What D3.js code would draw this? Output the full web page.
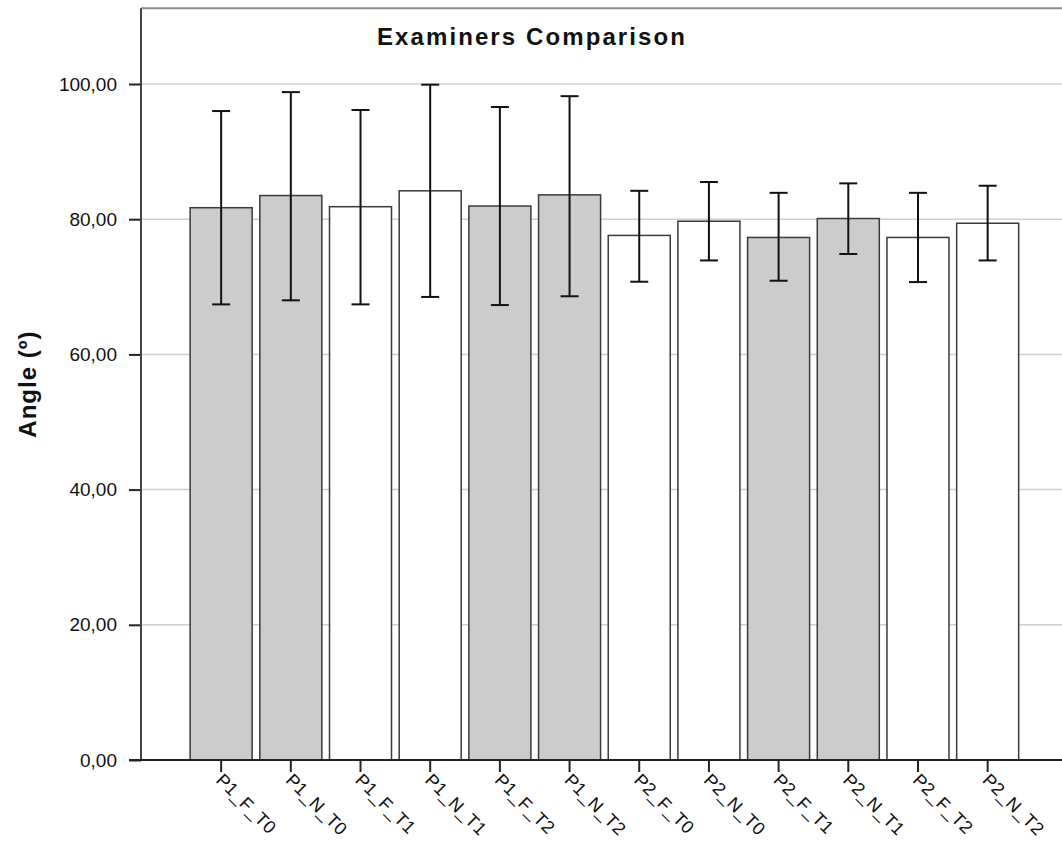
<!DOCTYPE html>
<html>
<head>
<meta charset="utf-8">
<script src="https://cdn.jsdelivr.net/npm/d3@7"></script>
<style>
  body { margin: 0; background: #fff; }
  #graf { width: 1062px; height: 841px; }
  text { font-family: Arial, 'Liberation Sans', sans-serif; fill: #111; }
  .titulo { font-size: 24px; font-weight: bold; letter-spacing: 2.1px; }
  .etiqueta-y { font-size: 24px; font-weight: bold; letter-spacing: 1px; }
  .eje text { font-size: 19px; }
  .eje-x text { font-size: 18px; letter-spacing: 0.3px; }
</style>
</head>
<body>
<div id="graf"></div>
<script>
// I. Datos
categorias = ['P1_F_T0', 'P1_N_T0', 'P1_F_T1', 'P1_N_T1', 'P1_F_T2', 'P1_N_T2',
              'P2_F_T0', 'P2_N_T0', 'P2_F_T1', 'P2_N_T1', 'P2_F_T2', 'P2_N_T2']
medias   = [81.7, 83.5, 81.85, 84.2, 81.95, 83.6, 77.6, 79.7, 77.3, 80.1, 77.3, 79.4]
err_sup  = [96.0, 98.8, 96.15, 99.9, 96.6, 98.2, 84.2, 85.5, 83.9, 85.3, 83.9, 84.95]
err_inf  = [67.4, 68.0, 67.4, 68.5, 67.3, 68.6, 70.75, 73.9, 70.9, 74.85, 70.7, 73.9]
grupo    = ['g', 'g', 'b', 'b', 'g', 'g', 'b', 'b', 'g', 'g', 'b', 'b']
ticks_y  = [0, 20, 40, 60, 80, 100]

data = categorias.map((c, i) => ({
  cat: c, media: medias[i], sup: err_sup[i], inf: err_inf[i], grupo: grupo[i]
}))

// II. Configuración
ancho_total = 1062
alto_total = 841

svg = d3.select('#graf').append('svg')
        .attr('width', ancho_total)
        .attr('height', alto_total)

marco = { left: 141, bottom: 760, right: 1062 }

y = d3.scaleLinear()
      .domain([0, 100])
      .range([marco.bottom, 84])

x = d3.scaleBand()
      .domain(categorias)
      .range([186.3, 1022.5])
      .paddingInner(0.11)
      .paddingOuter(0.055)

color = d3.scaleOrdinal()
          .domain(['g', 'b'])
          .range(['#cccccc', '#ffffff'])

// III. Rejilla y marco
svg.append('g')
   .selectAll('line')
   .data(ticks_y.filter(d => d > 0))
   .enter().append('line')
     .attr('x1', marco.left).attr('x2', marco.right)
     .attr('y1', d => y(d)).attr('y2', d => y(d))
     .attr('stroke', '#cfcfcf')
     .attr('stroke-width', 1.5)

svg.append('line')
   .attr('x1', marco.left).attr('x2', marco.right)
   .attr('y1', y(111.2)).attr('y2', y(111.2))
   .attr('stroke', '#8a8a8a')
   .attr('stroke-width', 2)

// IV. Barras
svg.append('g')
   .selectAll('rect')
   .data(data)
   .enter().append('rect')
     .attr('x', d => x(d.cat))
     .attr('y', d => y(d.media))
     .attr('width', x.bandwidth())
     .attr('height', d => y(0) - y(d.media))
     .attr('fill', d => color(d.grupo))
     .attr('stroke', '#3a3a3a')
     .attr('stroke-width', 1.5)

// V. Barras de error
cap = 9
err = svg.append('g')
         .attr('stroke', '#111')
         .attr('stroke-width', 2)
         .selectAll('g')
         .data(data)
         .enter().append('g')

err.append('line')
   .attr('x1', d => x(d.cat) + x.bandwidth() / 2)
   .attr('x2', d => x(d.cat) + x.bandwidth() / 2)
   .attr('y1', d => y(d.sup))
   .attr('y2', d => y(d.inf))
err.append('line')
   .attr('x1', d => x(d.cat) + x.bandwidth() / 2 - cap)
   .attr('x2', d => x(d.cat) + x.bandwidth() / 2 + cap)
   .attr('y1', d => y(d.sup)).attr('y2', d => y(d.sup))
err.append('line')
   .attr('x1', d => x(d.cat) + x.bandwidth() / 2 - cap)
   .attr('x2', d => x(d.cat) + x.bandwidth() / 2 + cap)
   .attr('y1', d => y(d.inf)).attr('y2', d => y(d.inf))

// VI. Ejes
yAxisGroup = svg.append('g')
                .attr('class', 'eje')
                .attr('transform', `translate(${marco.left}, 0)`)
yAxisGroup.call(d3.axisLeft(y)
                  .tickValues(ticks_y)
                  .tickSize(12)
                  .tickPadding(12)
                  .tickFormat(d => d3.format('.2f')(d).replace('.', ',')))
yAxisGroup.select('.domain').remove()
yAxisGroup.selectAll('line').attr('stroke', '#222').attr('stroke-width', 2)

svg.append('line')
   .attr('x1', marco.left).attr('x2', marco.left)
   .attr('y1', y(111.2)).attr('y2', marco.bottom)
   .attr('stroke', '#444')
   .attr('stroke-width', 2)

xAxisGroup = svg.append('g')
                .attr('class', 'eje eje-x')
                .attr('transform', `translate(0, ${marco.bottom})`)
xAxisGroup.call(d3.axisBottom(x).tickSize(12).tickSizeOuter(0))
xAxisGroup.select('.domain').remove()
xAxisGroup.selectAll('line').attr('stroke', '#222').attr('stroke-width', 2)
xAxisGroup.selectAll('text')
          .attr('text-anchor', 'start')
          .attr('x', 0).attr('y', 0).attr('dy', '0.72em')
          .attr('transform', 'translate(3, 12) rotate(45)')

svg.append('line')
   .attr('x1', 129).attr('x2', marco.right)
   .attr('y1', marco.bottom).attr('y2', marco.bottom)
   .attr('stroke', '#222')
   .attr('stroke-width', 2)

// VII. Títulos
svg.append('text')
   .attr('class', 'titulo')
   .attr('x', 532)
   .attr('y', 45)
   .attr('text-anchor', 'middle')
   .text('Examiners Comparison')

svg.append('text')
   .attr('class', 'etiqueta-y')
   .attr('transform', `translate(36, ${(y(0) + y(111.2)) / 2}) rotate(-90)`)
   .attr('text-anchor', 'middle')
   .text('Angle (º)')
</script>
</body>
</html>
